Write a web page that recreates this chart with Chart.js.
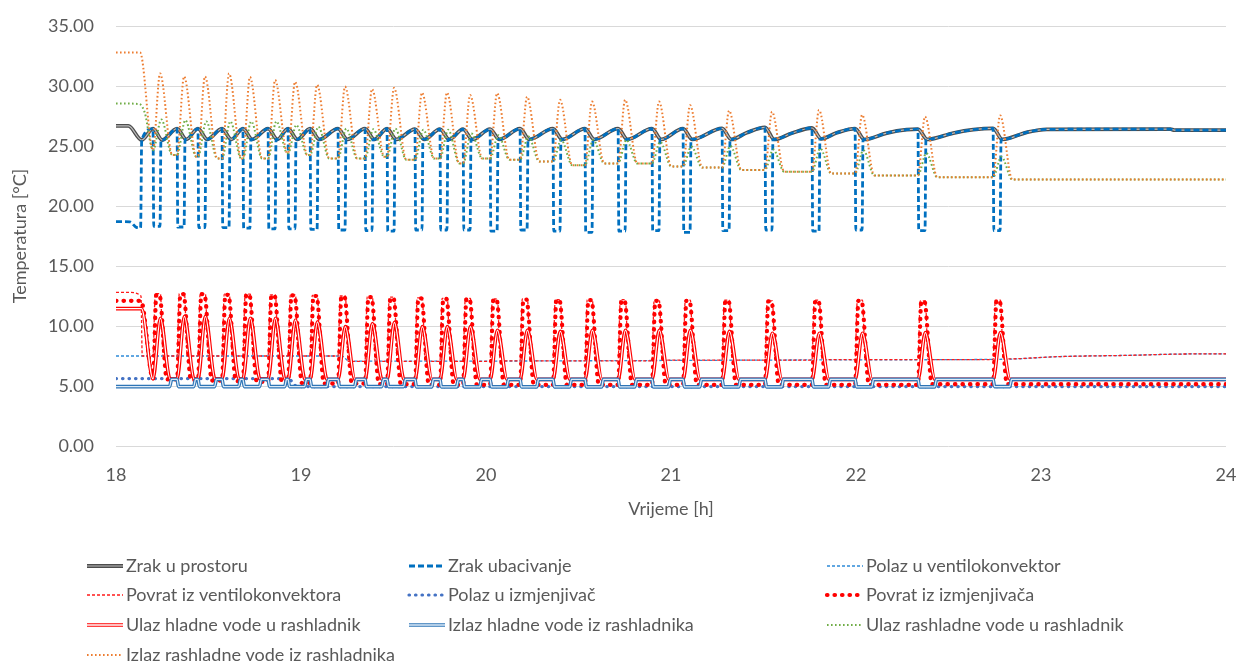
<!DOCTYPE html>
<html>
<head>
<meta charset="utf-8">
<script src="https://cdn.jsdelivr.net/npm/chart.js"></script>
<style>
  html, body { margin: 0; background: #fff; }
  #wrap { width: 1241px; height: 664px; }
</style>
</head>
<body>
<div id="wrap"><canvas id="chart"></canvas></div>
<script>
// Temperature log, 18-24 h

const seriesNames = [
    'Zrak u prostoru', 'Zrak ubacivanje', 'Polaz u ventilokonvektor',
    'Povrat iz ventilokonvektora', 'Polaz u izmjenjivač', 'Povrat iz izmjenjivača',
    'Ulaz hladne vode u rashladnik', 'Izlaz hladne vode iz rashladnika', 'Ulaz rashladne vode u rashladnik',
    'Izlaz rashladne vode iz rashladnika'
];
const hourTicks = [18, 19, 20, 21, 22, 23, 24];
const tempTicks = [0, 5, 10, 15, 20, 25, 30, 35];

// start time of each cooling cycle [h]
const cycleStart = [18.200, 18.330, 18.443, 18.573, 18.686, 18.822, 18.930, 19.049, 19.200, 19.346,
    19.465, 19.616, 19.751, 19.876, 20.022, 20.184, 20.362, 20.535, 20.714, 20.897,
    21.065, 21.276, 21.508, 21.762, 21.995, 22.335, 22.741];

// room air / supply air
const roomHead = [[18.0, 26.67], [18.067, 26.67], [18.139, 25.5]];
const supplyHead = [[18.0, 18.7], [18.075, 18.68], [18.11, 18.22], [18.133, 18.18], [18.139, 25.5]];
const roomPeak = [26.45, 26.45, 26.45, 26.45, 26.45, 26.45, 26.45, 26.45, 26.45, 26.45,
    26.45, 26.4, 26.4, 26.4, 26.4, 26.45, 26.45, 26.45, 26.45, 26.45,
    26.45, 26.47, 26.55, 26.5, 26.45, 26.4, 26.47];
const roomMin = [25.5, 25.55, 25.55, 25.55, 25.55, 25.55, 25.55, 25.55, 25.55, 25.55,
    25.55, 25.55, 25.55, 25.55, 25.55, 25.55, 25.55, 25.55, 25.55, 25.55,
    25.55, 25.55, 25.55, 25.6, 25.55, 25.55, 25.55];
const supplyLow = [18.3, 18.25, 18.2, 18.2, 18.15, 18.1, 18.1, 18.05, 18.0, 17.95,
    17.9, 18.0, 18.0, 18.0, 17.9, 18.0, 17.9, 17.8, 17.9, 17.95,
    17.8, 17.95, 18.0, 17.9, 18.0, 17.95, 17.95];
const roomKnees = [[21.409, 26.1], [21.652, 26.06], [21.896, 26.1], [22.166, 26.08],
    [22.274, 26.36], [22.526, 26.08], [22.634, 26.36]];
const roomTail = [[22.923, 26.14], [23.031, 26.39], [23.70, 26.40], [23.72, 26.33], [24.0, 26.33]];

// fan coil supply / return
const fcuSupply = [[18.0, 7.5], [19.22, 7.5], [19.26, 7.08], [20.0, 7.08], [21.0, 7.13], [22.0, 7.18],
    [22.8, 7.23], [23.1, 7.45], [23.46, 7.55], [23.82, 7.67], [24.0, 7.67]];
const fcuRetHead = [[18.0, 12.8], [18.07, 12.8], [18.135, 12.5], [18.142, 7.5]];
const fcuRetPeak = [12.7, 12.7, 12.7, 12.65, 12.65, 12.6, 12.6, 12.55, 12.5, 12.45,
    12.4, 12.35, 12.3, 12.3, 12.25, 12.25, 12.2, 12.2, 12.2, 12.15,
    12.15, 12.15, 12.1, 12.15, 12.15, 12.1, 12.15];
const fcuRetBase = [7.5, 7.5, 7.5, 7.5, 7.5, 7.5, 7.5, 7.5, 7.5, 7.05,
    7.05, 7.05, 7.05, 7.05, 7.05, 7.1, 7.1, 7.1, 7.1, 7.1,
    7.15, 7.15, 7.15, 7.15, 7.2, 7.2, 7.2, 7.25];
const fcuRetTail = [[23.1, 7.45], [23.46, 7.55], [23.82, 7.67], [24.0, 7.67]];

// heat exchanger supply / return
const exchSupply = [[18.0, 5.62], [18.93, 5.62], [18.98, 4.95], [24.0, 4.95]];
const exchRetHead = [[18.0, 12.1], [18.135, 12.1]];
const exchRetPeak = [12.6, 12.65, 12.65, 12.6, 12.6, 12.55, 12.55, 12.5, 12.45, 12.4,
    12.3, 12.3, 12.25, 12.25, 12.2, 12.2, 12.15, 12.15, 12.1, 12.1,
    12.1, 12.1, 12.05, 12.1, 12.1, 12.05, 12.1];
const exchRetBase = [5.6, 5.55, 5.5, 5.45, 5.4, 5.35, 5.3, 5.25, 5.2, 5.2,
    5.15, 5.15, 5.1, 5.1, 5.1, 5.1, 5.1, 5.1, 5.1, 5.1,
    5.1, 5.1, 5.1, 5.1, 5.1, 5.1, 5.15, 5.15];
const exchRetTail = [[24.0, 5.15]];

// chiller cold water in / out
const chillInHead = [[18.0, 11.45], [18.138, 11.45]];
const chillInPeak = [10.65, 10.8, 10.8, 10.65, 10.65, 10.65, 10.5, 10.35, 9.95, 10.2,
    10.3, 9.95, 9.95, 9.95, 9.65, 9.65, 9.55, 9.65, 9.65, 9.65,
    9.65, 9.55, 9.4, 9.4, 9.4, 9.45, 9.45];
const chillInBase = [5.6, 5.6, 5.6, 5.6, 5.6, 5.6, 5.55, 5.55, 5.55, 5.55,
    5.55, 5.55, 5.55, 5.55, 5.55, 5.55, 5.55, 5.55, 5.55, 5.55,
    5.55, 5.55, 5.55, 5.55, 5.55, 5.55, 5.55, 5.55];
const chillInTail = [[24.0, 5.55]];
const chillOutHead = [[18.0, 4.95]];
const chillOutLow = [4.95, 4.95, 4.95, 4.95, 4.95, 4.95, 4.95, 4.95, 4.95, 4.95,
    4.95, 4.93, 4.93, 4.93, 4.93, 4.93, 4.93, 4.93, 4.93, 4.93,
    4.93, 4.93, 4.93, 4.93, 4.93, 4.93, 4.95];
const chillOutHigh = [4.95, 5.55, 5.55, 5.55, 5.55, 5.55, 5.55, 5.55, 5.55, 5.55,
    5.55, 5.55, 5.55, 5.55, 5.55, 5.55, 5.55, 5.55, 5.55, 5.55,
    5.55, 5.55, 5.55, 5.55, 5.55, 5.55, 5.55, 5.55];
const chillOutTail = [[24.0, 5.55]];

// chiller condenser water in / out
const coolInHead = [[18.0, 28.55], [18.125, 28.5], [18.155, 27.8]];
const coolOutHead = [[18.0, 32.8], [18.13, 32.8]];
const coolInPeak = [27.2, 27.15, 27.05, 27.05, 27.05, 27.05, 26.75, 26.6, 26.45, 26.4,
    26.45, 26.35, 26.35, 26.05, 25.9, 25.8, 25.5, 25.5, 25.5, 25.35,
    24.95, 25.0, 24.7, 24.8, 24.65, 24.4, 24.1];
const coolOutPeak = [31.05, 30.8, 30.8, 31.05, 30.75, 30.5, 30.35, 30.1, 29.95, 29.75,
    29.85, 29.45, 29.45, 29.25, 29.4, 29.1, 28.85, 28.7, 28.85, 28.7,
    28.4, 27.95, 27.85, 28.0, 27.6, 27.45, 27.55];
const coolBase = [24.65, 24.25, 24.1, 23.95, 23.95, 23.95, 24.4, 24.25, 23.95, 23.95,
    24.1, 23.85, 23.95, 23.55, 23.95, 23.85, 23.7, 23.4, 23.55, 23.55,
    23.3, 23.2, 23.0, 22.85, 22.7, 22.55, 22.4, 22.2];
const coolTail = [[24.0, 22.2]];

// head points, one set of points per cycle, tail points -> sorted {x, y}
function cyclePoints(head, tail, eachCycle) {
    const pts = head.slice();
    cycleStart.forEach((t, i) => eachCycle(t, i).forEach(p => pts.push(p)));
    return pts.concat(tail)
        .sort((a, b) => a[0] - b[0])
        .map(([x, y]) => ({ x, y }));
}

const seriesData = [
    cyclePoints(roomHead, roomKnees.concat(roomTail), (t, i) => [
        [t, roomPeak[i]], [t + 0.05, roomMin[i]]]),
    cyclePoints(supplyHead, roomKnees.concat(roomTail), (t, i) => [
        [t, roomPeak[i]], [t + 0.004, supplyLow[i]], [t + 0.038, supplyLow[i]],
        [t + 0.043, roomMin[i]], [t + 0.05, roomMin[i]]]),
    fcuSupply.map(([x, y]) => ({ x, y })),
    cyclePoints(fcuRetHead, fcuRetTail, (t, i) => [
        [t, fcuRetBase[i]], [t + 0.012, fcuRetPeak[i]], [t + 0.04, fcuRetPeak[i]],
        [t + 0.055, fcuRetBase[i + 1]]]),
    exchSupply.map(([x, y]) => ({ x, y })),
    cyclePoints(exchRetHead, exchRetTail, (t, i) => [
        [t, exchRetBase[i]], [t + 0.018, exchRetPeak[i]], [t + 0.035, exchRetPeak[i]],
        [t + 0.075, exchRetBase[i + 1]]]),
    cyclePoints(chillInHead, chillInTail, (t, i) => [
        [t, chillInBase[i]], [t + 0.04, chillInPeak[i]], [t + 0.092, chillInBase[i + 1]]]),
    cyclePoints(chillOutHead, chillOutTail, (t, i) => [
        [t, chillOutHigh[i]], [t + 0.008, chillOutLow[i]], [t + 0.09, chillOutLow[i]],
        [t + 0.1, chillOutHigh[i + 1]]]),
    cyclePoints(coolInHead, coolTail, (t, i) => [
        [t, coolBase[i]], [t + 0.045, coolInPeak[i]], [t + 0.104, coolBase[i + 1]]]),
    cyclePoints(coolOutHead, coolTail, (t, i) => [
        [t, coolBase[i]], [t + 0.038, coolOutPeak[i]], [t + 0.104, coolBase[i + 1]]])
];

// line look of every series (double lines get an inner stroke)
const seriesStyles = [
    { color: '#4d4d4d', width: 3.8, inner: '#bfbfbf', innerWidth: 1.2 },
    { color: '#0070c0', width: 2.8, dash: [6, 3] },
    { color: '#2e8bd8', width: 1.3, dash: [3, 2] },
    { color: '#ff1a1a', width: 1.3, dash: [3, 2] },
    { color: '#4472c4', width: 3.2, dash: [0.5, 6], cap: 'round' },
    { color: '#ff0000', width: 4.2, dash: [0.5, 7], cap: 'round' },
    { color: '#ff0000', width: 3.6, inner: '#ffffff', innerWidth: 1.3 },
    { color: '#2e75b6', width: 3.6, inner: '#deebf7', innerWidth: 1.3 },
    { color: '#70ad47', width: 2, dash: [1.6, 2.4] },
    { color: '#ed7d31', width: 2, dash: [1.6, 2.4] }
];

const fontFamily = "Lato, 'Open Sans', sans-serif";
const textColor = '#595959';
const legendColX = [87, 409, 827];
const legendRowY = [566, 595, 625, 655];

const datasets = [];
let layer = 0;
seriesData.forEach((data, i) => {
    const st = seriesStyles[i];
    const base = {
        label: seriesNames[i],
        data: data,
        pointRadius: 0,
        fill: false,
        cubicInterpolationMode: 'monotone'
    };
    datasets.push({
        ...base,
        borderColor: st.color,
        borderWidth: st.width,
        borderDash: st.dash || [],
        borderCapStyle: st.cap || 'butt',
        order: -(layer++)
    });
    if (st.inner) {
        datasets.push({
            ...base,
            label: seriesNames[i] + ' inner',
            borderColor: st.inner,
            borderWidth: st.innerWidth,
            order: -(layer++)
        });
    }
});

// three-column legend under the plot
const gridLegend = {
    id: 'gridLegend',
    afterDraw(chart) {
        const ctx = chart.ctx;
        ctx.save();
        ctx.font = '18px ' + fontFamily;
        ctx.textBaseline = 'middle';
        seriesNames.forEach((name, i) => {
            const st = seriesStyles[i];
            const x0 = legendColX[i % 3];
            const y = legendRowY[Math.floor(i / 3)];
            ctx.beginPath();
            ctx.moveTo(x0, y);
            ctx.lineTo(x0 + 36, y);
            ctx.strokeStyle = st.color;
            ctx.lineWidth = st.width;
            ctx.lineCap = st.cap || 'butt';
            ctx.setLineDash(st.dash || []);
            ctx.stroke();
            if (st.inner) {
                ctx.strokeStyle = st.inner;
                ctx.lineWidth = st.innerWidth;
                ctx.stroke();
            }
            ctx.setLineDash([]);
            ctx.fillStyle = textColor;
            ctx.fillText(name, x0 + 39, y);
        });
        ctx.restore();
    }
};

new Chart(document.getElementById('chart'), {
    type: 'line',
    data: { datasets: datasets },
    plugins: [gridLegend],
    options: {
        responsive: true,
        maintainAspectRatio: false,
        animation: false,
        events: [],
        layout: { padding: { left: 0, right: 15, top: 26, bottom: 138 } },
        plugins: {
            legend: { display: false },
            tooltip: { enabled: false }
        },
        scales: {
            x: {
                type: 'linear',
                min: 18,
                max: 24,
                afterBuildTicks: s => { s.ticks = hourTicks.map(v => ({ value: v })); },
                afterFit: s => {
                    s.height = 80;
                    s.paddingLeft = 0;
                    s.paddingRight = 0;
                },
                grid: { display: false, drawTicks: false },
                border: { display: false },
                ticks: {
                    color: textColor,
                    padding: 18,
                    maxRotation: 0,
                    font: { family: fontFamily, size: 18 }
                },
                title: {
                    display: true,
                    text: 'Vrijeme [h]',
                    color: textColor,
                    padding: { top: 0, bottom: 6 },
                    font: { family: fontFamily, size: 18 }
                }
            },
            y: {
                min: 0,
                max: 35,
                afterBuildTicks: s => { s.ticks = tempTicks.map(v => ({ value: v })); },
                afterFit: s => {
                    s.width = 116;
                    s.paddingTop = 0;
                    s.paddingBottom = 0;
                },
                grid: { color: '#d9d9d9', drawTicks: false },
                border: { display: false },
                ticks: {
                    color: textColor,
                    padding: 22,
                    font: { family: fontFamily, size: 18 },
                    callback: v => v.toFixed(2)
                },
                title: {
                    display: true,
                    text: 'Temperatura [°C]',
                    color: textColor,
                    padding: { top: 9, bottom: 0 },
                    font: { family: fontFamily, size: 18 }
                }
            }
        }
    }
});
</script>
</body>
</html>
